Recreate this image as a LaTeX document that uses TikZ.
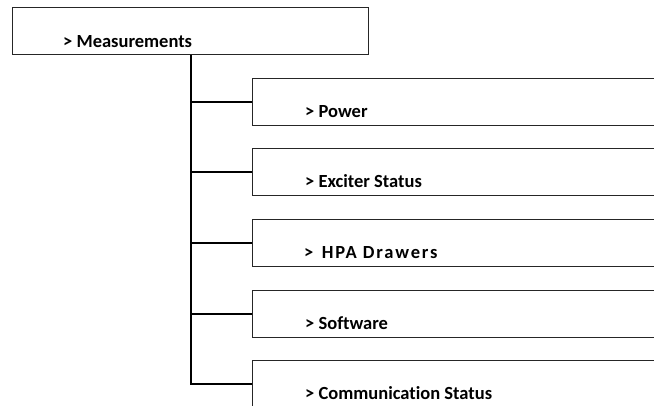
\documentclass[tikz,border=0pt]{standalone}
\usepackage{fontspec}
\setmainfont[Ligatures=NoCommon]{Carlito}
\begin{document}
\begin{tikzpicture}[x=1pt,y=-1pt,
  menubox/.style={draw=black!85,line width=1.1pt,rectangle,anchor=north west,
    minimum width=440pt,minimum height=47pt,inner sep=0pt},
  topbox/.style={draw=black!85,line width=1.1pt,rectangle,anchor=north west,
    minimum width=356pt,minimum height=47pt,inner sep=0pt},
  lbl/.style={anchor=base west,inner sep=0pt,font=\fontsize{18.5}{20}\selectfont\bfseries},
  link/.style={draw=black,line width=2pt}]
\clip (0,0) rectangle (654,405);
\fill[white] (0,0) rectangle (654,405);
% top level entry
\node[topbox] (top) at (12,7) {};
\node[lbl] (topl) at (63,47.5) {> Measurements};
% sub-menu entries
\node[menubox] (b1) at (252,78) {};
\node[menubox] (b2) at (252,148) {};
\node[menubox] (b3) at (252,219) {};
\node[menubox] (b4) at (252,290) {};
\node[menubox] (b5) at (252,360) {};
\node[lbl] (l1) at (305,117.5) {> Power};
\node[lbl] (l2) at (305,187.5) {> Exciter Status};
\node[lbl] (l3) at (304,258.5) {>\ \ {\addfontfeature{LetterSpace=10}HPA Drawers}};
\node[lbl] (l4) at (305,329.5) {> Software};
\node[lbl] (l5) at (305,399) {> Communication Status};
% tree connectors
\draw[link] (top.south) |- (b5.west);
\foreach \b in {b1,b2,b3,b4}
  \draw[link] (top.south |- \b.west) -- (\b.west);
\end{tikzpicture}
\end{document}
